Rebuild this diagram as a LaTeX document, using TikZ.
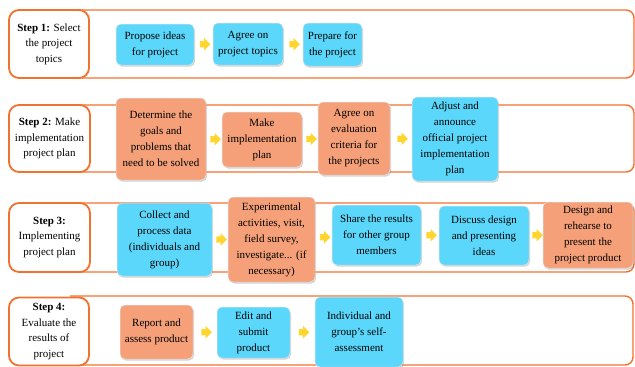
\documentclass[tikz,border=0pt]{standalone}
\usepackage{fontspec}
\setmainfont{Liberation Serif}
\usetikzlibrary{shapes.arrows,shadows}
\definecolor{bandorange}{HTML}{F2712E}
\definecolor{boxblue}{HTML}{5AD7FA}
\definecolor{boxsalmon}{HTML}{F5A078}
\definecolor{arrowyellow}{HTML}{FFD52E}
\tikzset{
  stepbox/.style={draw=bandorange, line width=1.8pt, fill=white, rounded corners=10pt,
    align=center, inner sep=2pt, font=\fontsize{11}{15.5}\selectfont},
  band/.style={draw=bandorange, line width=1.4pt, rounded corners=8pt},
  taskbox/.style={rounded corners=5pt, align=center, inner sep=2pt,
    draw=white!80!gray, line width=0.5pt,
    drop shadow={opacity=0.35, shadow xshift=1pt, shadow yshift=-1.5pt},
    font=\fontsize{11}{16}\selectfont},
  bluebox/.style={taskbox, fill=boxblue},
  salmonbox/.style={taskbox, fill=boxsalmon},
  yarr/.style={single arrow, fill=arrowyellow, draw=none, minimum height=10.5pt,
    minimum width=12pt, single arrow head extend=3pt, inner sep=3pt,
    single arrow head indent=0pt}
}
\begin{document}
\begin{tikzpicture}[x=1pt,y=-1pt]
\useasboundingbox (0,0) rectangle (635,367);
% bands
\draw[band] (70,10) -- (634,10) -- (634,78) -- (70,78);
\draw[band] (70,105) -- (634,105) -- (634,172) -- (70,172);
\draw[band] (70,203) -- (634,203) -- (634,272) -- (70,272);
\draw[band] (70,296) -- (633,296) -- (633,365) -- (70,365);
% step boxes
\node[stepbox, minimum width=80pt, minimum height=68pt] (s1) at (49,44) {\textbf{Step 1:} Select\\the project\\topics};
\node[stepbox, minimum width=81pt, minimum height=67pt] (s2) at (49.5,138.5) {\textbf{Step 2:} Make\\implementation\\project plan};
\node[stepbox, minimum width=81pt, minimum height=69pt] (s3) at (49.5,237.5) {\textbf{Step 3:}\\Implementing\\project plan};
\node[stepbox, minimum width=80pt, minimum height=68pt] (s4) at (49,331.5) {\textbf{Step 4:}\\Evaluate the\\results of\\project};
% row 1
\node[bluebox, minimum width=78pt, minimum height=41pt] (p1) at (155,44.5) {Propose ideas\\for project};
\node[bluebox, minimum width=70pt, minimum height=42pt] (p2) at (248,44) {Agree on\\project topics};
\node[bluebox, minimum width=59pt, minimum height=43pt] (p3) at (332.5,44.5) {Prepare for\\the project};
% row 2
\node[salmonbox, minimum width=90pt, minimum height=82pt] (q1) at (161,139) {Determine the\\goals and\\problems that\\need to be solved};
\node[salmonbox, minimum width=80pt, minimum height=55pt] (q2) at (262,139.5) {Make\\implementation\\plan};
\node[salmonbox, minimum width=72pt, minimum height=73pt] (q3) at (354,138.5) {Agree on\\evaluation\\criteria for\\the projects};
\node[bluebox, minimum width=86pt, minimum height=84pt] (q4) at (455,139) {Adjust and\\announce\\official project\\implementation\\plan};
% row 3
\node[bluebox, minimum width=95pt, minimum height=73pt] (r1) at (164.5,239.5) {Collect and\\process data\\(individuals and\\group)};
\node[salmonbox, minimum width=87pt, minimum height=85pt] (r2) at (271.5,239.5) {Experimental\\activities, visit,\\field survey,\\investigate... (if\\necessary)};
\node[bluebox, minimum width=89pt, minimum height=60pt] (r3) at (376.5,235) {Share the results\\for other group\\members};
\node[bluebox, minimum width=90pt, minimum height=59pt] (r4) at (484,235.5) {Discuss design\\and presenting\\ideas};
\node[salmonbox, minimum width=90pt, minimum height=66pt] (r5) at (588,235) {Design and\\rehearse to\\present the\\project product};
% row 4
\node[salmonbox, minimum width=73pt, minimum height=54pt] (t1) at (156.5,332) {Report and\\assess product};
\node[bluebox, minimum width=73pt, minimum height=51pt] (t2) at (253.5,332.5) {Edit and\\submit\\product};
\node[bluebox, minimum width=88pt, minimum height=70pt] (t3) at (359,332) {Individual and\\group's self-\\assessment};
% arrows
\path (p1.east) -- (p2.west) node[midway, yarr] (a1) {};
\path (p2.east) -- (p3.west) node[midway, yarr] (a2) {};
\path (q1.east) -- (q2.west) node[midway, yarr] (a3) {};
\path (q2.east) -- (q3.west) node[midway, yarr] (a4) {};
\path (q3.east) -- (q4.west) node[midway, yarr] (a5) {};
\path (r1.east) -- (r2.west) node[midway, yarr] (a6) {};
\path (r2.east) -- (r3.west) node[midway, yarr] (a7) {};
\path (r3.east) -- (r4.west) node[midway, yarr] (a8) {};
\path (r4.east) -- (r5.west) node[midway, yarr] (a9) {};
\path (t1.east) -- (t2.west) node[midway, yarr] (a10) {};
\path (t2.east) -- (t3.west) node[midway, yarr] (a11) {};
\end{tikzpicture}
\end{document}
